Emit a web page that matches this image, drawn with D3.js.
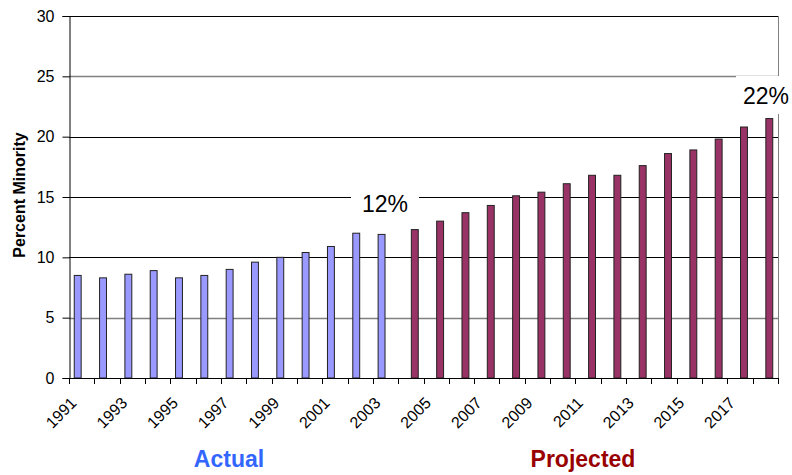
<!DOCTYPE html>
<html>
<head>
<meta charset="utf-8">
<script src="https://cdn.jsdelivr.net/npm/d3@7"></script>
<style>
  body { margin: 0; background: #fff; }
  svg text { font-family: "Liberation Sans", Arial, sans-serif; }
</style>
</head>
<body>
<svg id="chart" width="792" height="475"></svg>
<script>
// Minority share by year, actual then projected
const years = d3.range(1991, 2019).map(String);
const actualYears = years.slice(0, 13);
const actualValues = [8.5, 8.3, 8.6, 8.9, 8.3, 8.5, 9.0, 9.6, 10.0, 10.4, 10.9, 12.0, 11.9];
const projectedYears = years.slice(13);
const projectedValues = [12.3, 13.0, 13.7, 14.3, 15.1, 15.4, 16.1, 16.8, 16.8, 17.6, 18.6, 18.9, 19.8, 20.8, 21.5];
const seriesKeys = ["actual", "projected"];
const yTicks = [0, 5, 10, 15, 20, 25, 30];
const xLabels = years.filter((d, i) => i % 2 === 0 && i < 27);
const callouts = [{ year: "2002", text: "12%" }, { year: "2018", text: "22%" }];

const svg = d3.select("#chart");
const plotLeft = 69, plotRight = 778, plotTop = 16, plotBottom = 378;

const x = d3.scaleBand().domain(years).range([plotLeft, plotRight]).padding(0);
const xSeries = d3.scaleBand().domain(seriesKeys).range([0, x.bandwidth()]).paddingOuter(0.6);
const y = d3.scaleLinear().domain([0, 30]).range([plotBottom, plotTop]);

// gridlines
svg.append("g").selectAll("line")
    .data(yTicks.filter(v => v > 0 && v < 30))
    .join("line")
    .attr("x1", plotLeft).attr("x2", plotRight)
    .attr("y1", d => Math.round(y(d)) + 0.5).attr("y2", d => Math.round(y(d)) + 0.5)
    .attr("stroke", d => (d === 5 || d === 25) ? "#808080" : "#000")
    .attr("stroke-width", d => (d === 5 || d === 25) ? 1.5 : 1);

// frame top / right
svg.append("line").attr("x1", plotLeft).attr("x2", plotRight).attr("y1", plotTop + 0.5).attr("y2", plotTop + 0.5)
    .attr("stroke", "#000");
svg.append("line").attr("x1", plotRight + 0.5).attr("x2", plotRight + 0.5).attr("y1", plotTop).attr("y2", plotBottom)
    .attr("stroke", "#808080");

// bars
const actualData = actualYears.map((yr, i) => ({ year: yr, value: actualValues[i], key: "actual" }));
const projectedData = projectedYears.map((yr, i) => ({ year: yr, value: projectedValues[i], key: "projected" }));
const fills = { actual: "#9999ff", projected: "#993366" };

svg.append("g").selectAll("rect")
    .data(actualData.concat(projectedData))
    .join("rect")
    .attr("x", d => x(d.year) + xSeries(d.key) + 0.5)
    .attr("width", xSeries.bandwidth() - 1)
    .attr("y", d => y(d.value))
    .attr("height", d => y(0) - y(d.value))
    .attr("fill", d => fills[d.key])
    .attr("stroke", "#222")
    .attr("stroke-width", 1);

// y axis
const yAxis = d3.axisLeft(y).tickValues(yTicks).tickSize(7).tickPadding(8);
const gy = svg.append("g").attr("transform", `translate(${plotLeft + 0.5},0)`).call(yAxis);
gy.select(".domain").attr("stroke", "#000");
gy.selectAll("text").attr("font-size", 16).attr("fill", "#000");

// x axis line and category ticks
svg.append("line").attr("x1", plotLeft).attr("x2", plotRight).attr("y1", plotBottom + 0.5).attr("y2", plotBottom + 0.5)
    .attr("stroke", "#000");
svg.append("g").selectAll("line")
    .data(years.concat(["end"]))
    .join("line")
    .attr("x1", d => Math.round(d === "end" ? plotRight : x(d)) + 0.5)
    .attr("x2", d => Math.round(d === "end" ? plotRight : x(d)) + 0.5)
    .attr("y1", plotBottom).attr("y2", plotBottom + 6)
    .attr("stroke", "#000");

svg.append("g").selectAll("text")
    .data(xLabels)
    .join("text")
    .attr("transform", d => `translate(${x(d) + x.bandwidth() / 2 - 4},${plotBottom + 26}) rotate(-45)`)
    .attr("text-anchor", "end")
    .attr("font-size", 16)
    .attr("fill", "#000")
    .text(d => d);

// y title
svg.append("text")
    .attr("transform", `translate(25,195) rotate(-90)`)
    .attr("text-anchor", "middle")
    .attr("font-size", 16)
    .attr("font-weight", "bold")
    .text("Percent Minority");

// callouts with white boxes
const calloutPos = { "2002": { cx: 385, base: 212, w: 68 }, "2018": { cx: 766, base: 104, w: 60 } };
callouts.forEach(c => {
    const p = calloutPos[c.year];
    svg.append("rect")
        .attr("x", p.cx - p.w / 2).attr("y", p.base - 28)
        .attr("width", p.w).attr("height", 38)
        .attr("fill", "#fff");
    svg.append("text")
        .attr("x", p.cx).attr("y", p.base)
        .attr("text-anchor", "middle")
        .attr("font-size", 23)
        .text(c.text);
});

// group labels
const groupLabels = [
    { text: "Actual", yrs: actualYears, color: "#3366ff" },
    { text: "Projected", yrs: projectedYears, color: "#990000" }
];
svg.append("g").selectAll("text")
    .data(groupLabels)
    .join("text")
    .attr("x", (d, i) => i === 0 ? 229 : 583)
    .attr("y", 467)
    .attr("text-anchor", "middle")
    .attr("font-size", 23)
    .attr("font-weight", "bold")
    .attr("fill", d => d.color)
    .text(d => d.text);
</script>
</body>
</html>
